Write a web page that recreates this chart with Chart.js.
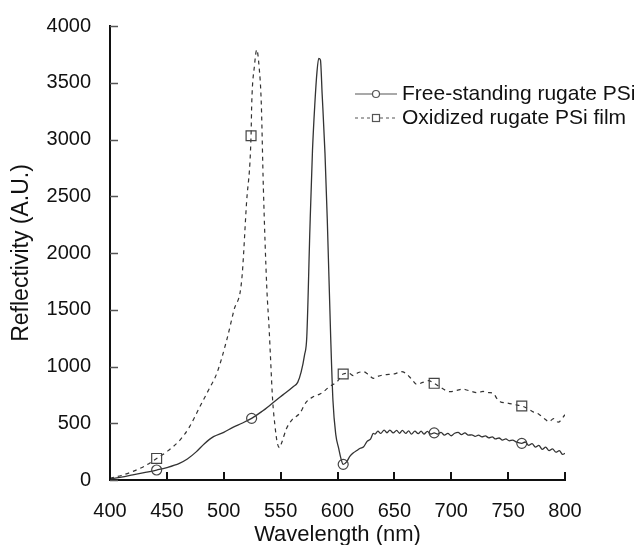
<!DOCTYPE html>
<html>
<head>
<meta charset="utf-8">
<script src="https://cdn.jsdelivr.net/npm/chart.js@4.4.1/dist/chart.umd.min.js"></script>
<style>
  html, body { margin: 0; padding: 0; background: #ffffff; }
  #c { display: block; }
</style>
</head>
<body>
<canvas id="c" width="640" height="545"></canvas>
<script>
// ---- data ----
const seriesNames = ["Free-standing rugate PSi", "Oxidized rugate PSi film"];

const freeWavelength = [400,410,420,430,441,450,461,468,476,483,491,500,508,516,524.5,533,543,552,561,565,568,571,573,575.8,578,580,582,583.5,585,586.5,589,591,594,596,598.5,601,603,605,608,611,614,617,620,623,626,629,631.5,633,635.5,638,641,643.5,646,649,652,654.5,657,660,662.5,665,668,671,673.5,676,679,682,685,688,691,694,697,700,703,706,709,712,715,718,721,724,727,730,733,736,739,742,745,748,751,754,757,762,765,768,771,774,777,780,783,786,789,792,795,798,800];
const freeReflectivity = [10,25,45,65,88,110,147,185,250,320,382,420,464,500,543,600,678,750,822,860,950,1100,1262,2232,2900,3300,3600,3715,3700,3400,2878,2300,1262,700,400,280,190,138,160,210,240,260,280,293,340,360,411,405,430,410,440,415,440,415,438,412,437,410,432,405,430,408,430,405,428,405,415,405,420,395,410,390,412,420,400,415,395,398,385,395,380,388,372,380,362,370,352,362,345,352,335,323,335,305,320,290,305,270,290,258,275,245,258,225,235];

const oxWavelength = [400,410,420,430,441,450,461.5,470,479,487,494,502.6,509,515.8,520,524,524.6,527,529,531,533,534.8,537.8,539.8,541,543,545,547,549,551,555,560,567,572,578.6,585,593,600,605,610,614,618,622.7,627,631.5,636,640,645,650,656,660,665,669.6,675,680,685,690,695,699,705,710,713.6,718,723,728,733,737,740,743,748,753,758,762,767,772,777,782,786,790,794,800];
const oxReflectivity = [15,40,75,120,190,250,352,470,646,800,942,1233,1498,1762,2438,3033,3319,3650,3790,3650,3319,2584,1703,1351,1100,700,480,330,285,330,450,530,590,680,734,760,822,870,934,940,920,945,954,930,896,915,925,930,935,954,940,890,843,860,875,852,820,790,778,790,800,793,780,770,780,770,764,720,690,680,670,660,652,630,600,580,540,514,540,510,575];

// wavelengths at which the symbols are placed
const freeMarkers = [441, 524.5, 605, 685, 762];
const oxMarkers = [441, 524, 605, 685, 762];

const xMin = 400, xMax = 800, xStep = 50;
const yMin = 0, yMax = 4000, yStep = 500;
const xTitle = "Wavelength (nm)";
const yTitle = "Reflectivity (A.U.)";

// ---- build chart ----
const toPoints = (xs, ys) => xs.map((x, i) => ({ x: x, y: ys[i] }));
const lineColor = "#333333";
const axisColor = "#111111";
const FONT = "'Liberation Sans', Arial, Helvetica, sans-serif";

// inward tick marks, drawn from the scales' own ticks
const innerTicks = {
  id: "innerTicks",
  afterDraw(chart) {
    const ctx = chart.ctx;
    const xs = chart.scales.x, ys = chart.scales.y;
    const a = chart.chartArea;
    ctx.save();
    ctx.setLineDash([]);
    ctx.strokeStyle = axisColor;
    ctx.lineWidth = 2;
    xs.ticks.forEach(t => {
      const px = Math.round(xs.getPixelForValue(t.value));
      ctx.beginPath(); ctx.moveTo(px, a.bottom); ctx.lineTo(px, a.bottom - 8); ctx.stroke();
    });
    ctx.strokeStyle = "#555555";
    ctx.lineWidth = 1.5;
    ys.ticks.forEach(t => {
      const py = Math.round(ys.getPixelForValue(t.value)) + 0.5;
      ctx.beginPath(); ctx.moveTo(a.left, py); ctx.lineTo(a.left + 8, py); ctx.stroke();
    });
    ctx.restore();
  }
};

const legendPlugin = {
  id: "customLegend",
  afterDraw(chart) {
    const ctx = chart.ctx;
    ctx.save();
    const x0 = 355, x1 = 397, xm = 376, tx = 402;
    const rows = [94, 118];
    ctx.strokeStyle = "#555555";
    ctx.lineWidth = 1.2;
    ctx.setLineDash([]);
    ctx.beginPath(); ctx.moveTo(x0, rows[0]); ctx.lineTo(xm - 4, rows[0]); ctx.moveTo(xm + 4, rows[0]); ctx.lineTo(x1, rows[0]); ctx.stroke();
    ctx.beginPath(); ctx.arc(xm, rows[0], 3.5, 0, Math.PI * 2); ctx.stroke();
    ctx.setLineDash([3, 3]);
    ctx.beginPath(); ctx.moveTo(x0, rows[1]); ctx.lineTo(xm - 4, rows[1]); ctx.moveTo(xm + 4, rows[1]); ctx.lineTo(x1, rows[1]); ctx.stroke();
    ctx.setLineDash([]);
    ctx.strokeRect(xm - 3.5, rows[1] - 3.5, 7, 7);
    ctx.fillStyle = "#111111";
    ctx.font = "21px " + FONT;
    ctx.textBaseline = "middle";
    ctx.textAlign = "left";
    ctx.fillText(seriesNames[0], tx, rows[0]);
    ctx.fillText(seriesNames[1], tx, rows[1]);
    ctx.restore();
  }
};

const markerRadius = (set, r) => (c) => (c.raw && set.includes(c.raw.x)) ? r : 0;
const plainLabel = (v) => String(v);

new Chart(document.getElementById("c"), {
  type: "line",
  data: {
    datasets: [
      {
        label: seriesNames[0],
        data: toPoints(freeWavelength, freeReflectivity),
        borderColor: lineColor,
        borderWidth: 1.3,
        cubicInterpolationMode: "monotone",
        pointStyle: "circle",
        pointRadius: markerRadius(freeMarkers, 5),
        pointHoverRadius: 0,
        pointBorderColor: "#444444",
        pointBorderWidth: 1.2,
        pointBackgroundColor: "rgba(255,255,255,0)",
        fill: false
      },
      {
        label: seriesNames[1],
        data: toPoints(oxWavelength, oxReflectivity),
        borderColor: lineColor,
        borderWidth: 1.2,
        borderDash: [4, 4],
        cubicInterpolationMode: "monotone",
        pointStyle: "rect",
        pointRadius: markerRadius(oxMarkers, 7),
        pointHoverRadius: 0,
        pointBorderColor: "#444444",
        pointBorderWidth: 1.2,
        pointBackgroundColor: "rgba(255,255,255,0)",
        fill: false
      }
    ]
  },
  options: {
    responsive: false,
    animation: false,
    events: [],
    layout: { padding: { top: 26, right: 75, left: 0, bottom: 0 } },
    plugins: {
      legend: { display: false },
      tooltip: { enabled: false }
    },
    scales: {
      x: {
        type: "linear",
        min: xMin, max: xMax,
        ticks: { stepSize: xStep, color: "#111", font: { family: FONT, size: 20 }, padding: 11, maxRotation: 0, callback: plainLabel },
        grid: { display: false },
        border: { display: true, color: axisColor, width: 2 },
        title: { display: true, text: xTitle, color: "#111", font: { family: FONT, size: 22 }, padding: { top: 0, bottom: -3 } },
        afterFit: (s) => { s.height = 65; }
      },
      y: {
        type: "linear",
        min: yMin, max: yMax,
        ticks: { stepSize: yStep, color: "#111", font: { family: FONT, size: 20 }, padding: 11, callback: plainLabel },
        grid: { display: false },
        border: { display: true, color: axisColor, width: 2 },
        title: { display: true, text: yTitle, color: "#111", font: { family: FONT, size: 23 }, padding: { top: 8, bottom: 0 } },
        afterFit: (s) => { s.width = 110; }
      }
    }
  },
  plugins: [innerTicks, legendPlugin]
});
</script>
</body>
</html>
